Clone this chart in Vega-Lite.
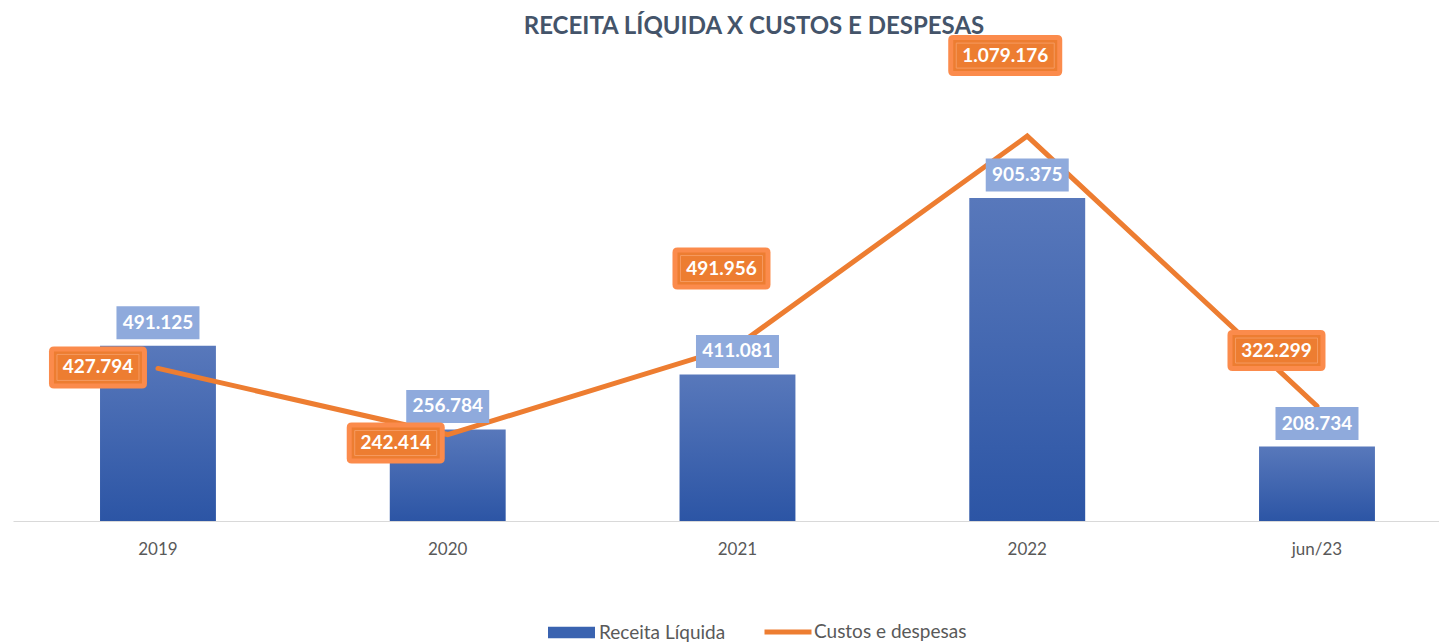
{
  "$schema": "https://vega.github.io/schema/vega-lite/v6.json",
  "width": 1426,
  "height": 428,
  "autosize": {"type": "none"},
  "padding": {"left": 13, "top": 93, "right": 0, "bottom": 121},
  "background": "white",
  "title": {
    "text": "RECEITA LÍQUIDA X CUSTOS E DESPESAS",
    "font": "Lato",
    "fontSize": 24,
    "fontWeight": "bold",
    "color": "#44546A",
    "anchor": "middle",
    "baseline": "alphabetic",
    "dx": 28,
    "dy": 28,
    "offset": 5
  },
  "config": {
    "view": {"stroke": null},
    "locale": {"number": {"decimal": ",", "thousands": ".", "grouping": [3], "currency": ["R$", ""]}}
  },
  "data": {
    "values": [
      {"period": "2019", "series": "Receita Líquida", "value": 491125},
      {"period": "2020", "series": "Receita Líquida", "value": 256784},
      {"period": "2021", "series": "Receita Líquida", "value": 411081},
      {"period": "2022", "series": "Receita Líquida", "value": 905375},
      {"period": "jun/23", "series": "Receita Líquida", "value": 208734},
      {"period": "2019", "series": "Custos e despesas", "value": 427794},
      {"period": "2020", "series": "Custos e despesas", "value": 242414},
      {"period": "2021", "series": "Custos e despesas", "value": 491956},
      {"period": "2022", "series": "Custos e despesas", "value": 1079176},
      {"period": "jun/23", "series": "Custos e despesas", "value": 322299}
    ]
  },
  "encoding": {
    "x": {
      "field": "period",
      "type": "nominal",
      "sort": ["2019", "2020", "2021", "2022", "jun/23"],
      "scale": {"paddingInner": 0.6, "paddingOuter": 0.2607, "align": 0.576},
      "axis": {
        "title": null,
        "labelAngle": 0,
        "labelFont": "Lato",
        "labelFontSize": 17,
        "labelColor": "#595959",
        "ticks": false,
        "tickSize": 0,
        "labelPadding": 20,
        "domainColor": "#D9D9D9",
        "domainWidth": 1,
        "grid": false
      }
    },
    "y": {
      "field": "value",
      "type": "quantitative",
      "scale": {"domain": [0, 1200000], "nice": false, "zero": true},
      "axis": null
    }
  },
  "layer": [
    {
      "transform": [{"filter": "datum.series === 'Receita Líquida'"}],
      "mark": {
        "type": "bar",
        "fill": {
          "gradient": "linear", "x1": 0, "y1": 0, "x2": 0, "y2": 1,
          "stops": [{"offset": 0, "color": "#5878BB"}, {"offset": 1, "color": "#2C55A5"}]
        }
      }
    },
    {
      "transform": [{"filter": "datum.series === 'Custos e despesas'"}],
      "mark": {"type": "line", "color": "#ED7D31", "strokeWidth": 5, "strokeCap": "round", "strokeJoin": "miter"}
    },
    {
      "transform": [{"filter": "datum.series === 'Receita Líquida'"}],
      "mark": {"type": "point", "filled": true, "opacity": 0},
      "encoding": {
        "fill": {
          "field": "series",
          "type": "nominal",
          "scale": {"domain": ["Receita Líquida"], "range": ["#3A63B0"]},
          "legend": {
            "orient": "none",
            "legendX": 535,
            "legendY": 516,
            "direction": "horizontal",
            "title": null,
            "symbolType": "M-1,-0.24 L1,-0.24 L1,0.24 L-1,0.24 Z",
            "symbolSize": 2209,
            "symbolOpacity": 1,
            "symbolStrokeWidth": 0,
            "labelFont": "Lato",
            "labelFontSize": 19,
            "labelColor": "#595959",
            "labelOffset": 4
          }
        }
      }
    },
    {
      "transform": [{"filter": "datum.series === 'Custos e despesas'"}],
      "mark": {"type": "point", "filled": false, "opacity": 0},
      "encoding": {
        "stroke": {
          "field": "series",
          "type": "nominal",
          "scale": {"domain": ["Custos e despesas"], "range": ["#ED7D31"]},
          "legend": {
            "orient": "none",
            "legendX": 749,
            "legendY": 513,
            "direction": "horizontal",
            "title": null,
            "symbolType": "stroke",
            "symbolSize": 2209,
            "symbolOpacity": 1,
            "symbolStrokeWidth": 5,
            "labelFont": "Lato",
            "labelFontSize": 19,
            "labelColor": "#595959",
            "labelOffset": 0
          }
        }
      }
    },
    {
      "transform": [{"filter": "datum.series === 'Receita Líquida'"}],
      "mark": {
        "type": "point",
        "filled": true,
        "opacity": 1,
        "size": 10000,
        "color": "#8FAADC",
        "shape": "M-0.83,-0.79 L0.83,-0.79 L0.83,-0.13 L-0.83,-0.13 Z"
      }
    },
    {
      "transform": [{"filter": "datum.series === 'Receita Líquida'"}],
      "mark": {"type": "text", "font": "Lato", "fontSize": 19, "fontWeight": "bold", "color": "#FFFFFF", "baseline": "middle", "dy": -23},
      "encoding": {"text": {"field": "value", "type": "quantitative", "format": ","}}
    },
    {
      "transform": [{"filter": "datum.series === 'Custos e despesas'"}],
      "mark": {"type": "point", "filled": true, "opacity": 1, "size": 10000, "color": "#FB8B4C"},
      "encoding": {
        "shape": {
          "field": "period",
          "type": "nominal",
          "legend": null,
          "scale": {
            "domain": ["2019", "2020", "2021", "2022", "jun/23"],
            "range": [
              "M-2.08,-0.44 L-0.32,-0.44 Q-0.22,-0.44 -0.22,-0.34 L-0.22,0.30 Q-0.22,0.40 -0.32,0.40 L-2.08,0.40 Q-2.18,0.40 -2.18,0.30 L-2.18,-0.34 Q-2.18,-0.44 -2.08,-0.44 Z",
              "M-1.92,-0.24 L-0.16,-0.24 Q-0.06,-0.24 -0.06,-0.14 L-0.06,0.48 Q-0.06,0.58 -0.16,0.58 L-1.92,0.58 Q-2.02,0.58 -2.02,0.48 L-2.02,-0.14 Q-2.02,-0.24 -1.92,-0.24 Z",
              "M-1.20,-1.96 L0.56,-1.96 Q0.66,-1.96 0.66,-1.86 L0.66,-1.22 Q0.66,-1.12 0.56,-1.12 L-1.20,-1.12 Q-1.30,-1.12 -1.30,-1.22 L-1.30,-1.86 Q-1.30,-1.96 -1.20,-1.96 Z",
              "M-1.48,-2.02 L0.60,-2.02 Q0.70,-2.02 0.70,-1.92 L0.70,-1.30 Q0.70,-1.20 0.60,-1.20 L-1.48,-1.20 Q-1.58,-1.20 -1.58,-1.30 L-1.58,-1.92 Q-1.58,-2.02 -1.48,-2.02 Z",
              "M-1.69,-1.52 L0.07,-1.52 Q0.17,-1.52 0.17,-1.42 L0.17,-0.80 Q0.17,-0.70 0.07,-0.70 L-1.69,-0.70 Q-1.79,-0.70 -1.79,-0.80 L-1.79,-1.42 Q-1.79,-1.52 -1.69,-1.52 Z"
            ]
          }
        }
      }
    },
    {
      "transform": [{"filter": "datum.series === 'Custos e despesas'"}],
      "mark": {"type": "point", "filled": true, "opacity": 1, "size": 10000, "color": "#ED7D31"},
      "encoding": {
        "shape": {
          "field": "period",
          "type": "nominal",
          "legend": null,
          "scale": {
            "domain": ["2019", "2020", "2021", "2022", "jun/23"],
            "range": [
              "M-2.08,-0.34 L-0.32,-0.34 L-0.32,0.30 L-2.08,0.30 Z",
              "M-1.92,-0.14 L-0.16,-0.14 L-0.16,0.48 L-1.92,0.48 Z",
              "M-1.20,-1.86 L0.56,-1.86 L0.56,-1.22 L-1.20,-1.22 Z",
              "M-1.48,-1.92 L0.60,-1.92 L0.60,-1.30 L-1.48,-1.30 Z",
              "M-1.69,-1.42 L0.07,-1.42 L0.07,-0.80 L-1.69,-0.80 Z"
            ]
          }
        }
      }
    },
    {
      "transform": [{"filter": "datum.series === 'Custos e despesas'"}],
      "mark": {"type": "point", "filled": false, "opacity": 1, "size": 10000, "stroke": "#F59A60", "strokeWidth": 1},
      "encoding": {
        "shape": {
          "field": "period",
          "type": "nominal",
          "legend": null,
          "scale": {
            "domain": ["2019", "2020", "2021", "2022", "jun/23"],
            "range": [
              "M-2.02,-0.28 L-0.38,-0.28 L-0.38,0.24 L-2.02,0.24 Z",
              "M-1.86,-0.08 L-0.22,-0.08 L-0.22,0.42 L-1.86,0.42 Z",
              "M-1.14,-1.80 L0.50,-1.80 L0.50,-1.28 L-1.14,-1.28 Z",
              "M-1.42,-1.86 L0.54,-1.86 L0.54,-1.36 L-1.42,-1.36 Z",
              "M-1.63,-1.36 L0.01,-1.36 L0.01,-0.86 L-1.63,-0.86 Z"
            ]
          }
        }
      }
    },
    {
      "transform": [{"filter": "datum.series === 'Custos e despesas' && datum.period === '2019'"}],
      "mark": {"type": "text", "font": "Lato", "fontSize": 19, "fontWeight": "bold", "color": "#FFFFFF", "baseline": "middle", "dx": -60, "dy": -1},
      "encoding": {"text": {"field": "value", "type": "quantitative", "format": ","}}
    },
    {
      "transform": [{"filter": "datum.series === 'Custos e despesas' && datum.period === '2020'"}],
      "mark": {"type": "text", "font": "Lato", "fontSize": 19, "fontWeight": "bold", "color": "#FFFFFF", "baseline": "middle", "dx": -52, "dy": 8.5},
      "encoding": {"text": {"field": "value", "type": "quantitative", "format": ","}}
    },
    {
      "transform": [{"filter": "datum.series === 'Custos e despesas' && datum.period === '2021'"}],
      "mark": {"type": "text", "font": "Lato", "fontSize": 19, "fontWeight": "bold", "color": "#FFFFFF", "baseline": "middle", "dx": -16, "dy": -77},
      "encoding": {"text": {"field": "value", "type": "quantitative", "format": ","}}
    },
    {
      "transform": [{"filter": "datum.series === 'Custos e despesas' && datum.period === '2022'"}],
      "mark": {"type": "text", "font": "Lato", "fontSize": 19, "fontWeight": "bold", "color": "#FFFFFF", "baseline": "middle", "dx": -22, "dy": -80.5},
      "encoding": {"text": {"field": "value", "type": "quantitative", "format": ","}}
    },
    {
      "transform": [{"filter": "datum.series === 'Custos e despesas' && datum.period === 'jun/23'"}],
      "mark": {"type": "text", "font": "Lato", "fontSize": 19, "fontWeight": "bold", "color": "#FFFFFF", "baseline": "middle", "dx": -40.5, "dy": -55.5},
      "encoding": {"text": {"field": "value", "type": "quantitative", "format": ","}}
    }
  ],
  "resolve": {"scale": {"shape": "independent"}}
}
